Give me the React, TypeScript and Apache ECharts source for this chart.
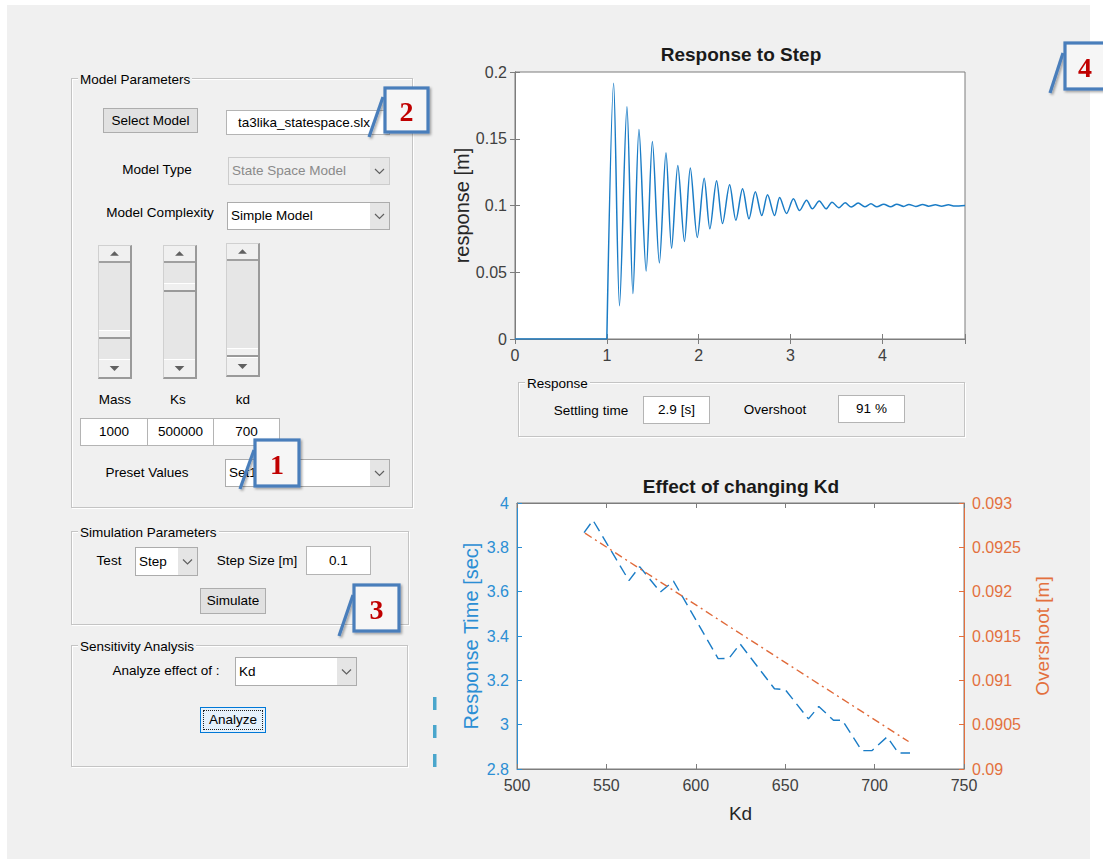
import React, { useEffect, useRef } from 'react';
import * as echarts from 'echarts';

// ---------- data ----------
const flatTime = [0, 1.0];
const flatResp = [0, 0];
const stepTime = [1.0, 1.074, 1.138, 1.219, 1.284, 1.35, 1.428, 1.496, 1.572, 1.644, 1.705, 1.773, 1.845, 1.909, 1.985, 2.06, 2.122, 2.195, 2.26, 2.337, 2.405, 2.478, 2.548, 2.617, 2.687, 2.75, 2.826, 2.882, 2.957, 3.032, 3.099, 3.175, 3.238, 3.313, 3.388, 3.452, 3.527, 3.595, 3.662, 3.737, 3.809, 3.876, 3.94, 4.015, 4.09, 4.157, 4.233, 4.289, 4.364, 4.439, 4.503, 4.578, 4.645, 4.72, 4.788, 4.9];
const stepResp = [0, 0.1915, 0.025, 0.174, 0.034, 0.157, 0.051, 0.148, 0.057, 0.1395, 0.068, 0.13, 0.073, 0.128, 0.076, 0.1205, 0.0825, 0.1185, 0.0865, 0.1155, 0.089, 0.1125, 0.09, 0.1103, 0.0925, 0.108, 0.0925, 0.106, 0.094, 0.105, 0.0962, 0.104, 0.0975, 0.1033, 0.0975, 0.1025, 0.0983, 0.102, 0.0988, 0.1018, 0.099, 0.1013, 0.099, 0.101, 0.099, 0.101, 0.0993, 0.1008, 0.0993, 0.1008, 0.0995, 0.1005, 0.0995, 0.1005, 0.0996, 0.1];

const kdValues = [537.5, 542.5, 562.6, 568.6, 580.2, 587.5, 612.5, 618.5, 624.8, 644, 650, 663, 668.8, 677, 682, 692.8, 698.6, 707, 713.3, 719.8];
const responseTime = [3.866, 3.922, 3.65, 3.713, 3.598, 3.648, 3.298, 3.299, 3.364, 3.162, 3.158, 3.026, 3.082, 3.02, 3.02, 2.883, 2.883, 2.945, 2.872, 2.872];
const overshootKd = [538, 620, 719];
const overshootValues = [0.09266, 0.09159, 0.09031];

const stepXTicks = { min: 0, max: 4.9, interval: 1 };
const stepYTicks = { min: 0, max: 0.2, interval: 0.05 };
const kdXTicks = { min: 500, max: 750, interval: 50 };
const rtYTicks = { min: 2.8, max: 4, interval: 0.2 };
const osYTicks = { min: 0.09, max: 0.093, interval: 0.0005 };

// ---------- styles ----------
const F = '"Liberation Sans", Arial, sans-serif';
const UI = '"Liberation Sans", Arial, sans-serif';
const GREY = '#7d7d7d';
const TXT = '#404040';
const BLUE = '#2b8ed4';
const BLUE_LINE = '#1a7cc6';
const ORANGE = '#e3703e';

const base: React.CSSProperties = {
  position: 'absolute',
  fontFamily: UI,
  fontSize: 13.5,
  color: '#000',
  whiteSpace: 'nowrap',
  lineHeight: '16px',
};

function Label({ x, y, text, color }: { x: number; y: number; text: string; color?: string }) {
  return (
    <div style={{ ...base, left: x, top: y, transform: 'translate(-50%,-50%)', color: color || '#000' }}>{text}</div>
  );
}

function Panel({ x, y, w, h, title }: { x: number; y: number; w: number; h: number; title: string }) {
  return (
    <div
      style={{
        position: 'absolute',
        left: x,
        top: y,
        width: w,
        height: h,
        boxSizing: 'border-box',
        border: '1px solid #c4c4c4',
        boxShadow: 'inset 1px 1px 0 #ffffff, 1px 1px 0 #ffffff',
      }}
    >
      <span style={{ ...base, left: 6, top: -7, background: '#f0f0f0', padding: '0 2px' }}>{title}</span>
    </div>
  );
}

function Chevron() {
  return (
    <svg width="19" height="100%" style={{ position: 'absolute', left: 0, top: 0 }} viewBox="0 0 19 26" preserveAspectRatio="xMidYMid meet">
      <polyline points="5,11 9.5,15.5 14,11" fill="none" stroke="#606060" strokeWidth="1.2" />
    </svg>
  );
}

function Dropdown({ x, y, w, h, text, disabled }: { x: number; y: number; w: number; h: number; text: string; disabled?: boolean }) {
  return (
    <div
      style={{
        position: 'absolute',
        left: x,
        top: y,
        width: w,
        height: h,
        boxSizing: 'border-box',
        border: `1px solid ${disabled ? '#cccccc' : '#acacac'}`,
        background: disabled ? '#f0f0f0' : '#ffffff',
        overflow: 'hidden',
      }}
    >
      <span style={{ ...base, left: 3, top: '50%', transform: 'translateY(-50%)', color: disabled ? '#8a8a8a' : '#000' }}>{text}</span>
      <div style={{ position: 'absolute', right: 0, top: 0, bottom: 0, width: 19, background: disabled ? '#e6e6e6' : '#e5e5e5' }}>
        <Chevron />
      </div>
    </div>
  );
}

function EditBox({ x, y, w, h, text, align }: { x: number; y: number; w: number; h: number; text: string; align?: string }) {
  return (
    <div
      style={{
        position: 'absolute',
        left: x,
        top: y,
        width: w,
        height: h,
        boxSizing: 'border-box',
        border: '1px solid #b4b4b4',
        background: '#ffffff',
        overflow: 'hidden',
      }}
    >
      <span
        style={{
          ...base,
          left: align === 'left' ? 11 : '50%',
          top: '50%',
          transform: align === 'left' ? 'translateY(-50%)' : 'translate(-50%,-50%)',
        }}
      >
        {text}
      </span>
    </div>
  );
}

function Button({ x, y, w, h, text, focused }: { x: number; y: number; w: number; h: number; text: string; focused?: boolean }) {
  return (
    <div
      style={{
        position: 'absolute',
        left: x,
        top: y,
        width: w,
        height: h,
        boxSizing: 'border-box',
        border: focused ? '1px solid #0078d7' : '1px solid #adadad',
        background: focused ? '#e5f1fb' : '#e1e1e1',
      }}
    >
      {focused && (
        <div style={{ position: 'absolute', left: 2, top: 2, right: 2, bottom: 2, border: '1px dotted #202020' }} />
      )}
      <span style={{ ...base, left: '50%', top: '50%', transform: 'translate(-50%,-50%)' }}>{text}</span>
    </div>
  );
}

function Tri({ up }: { up: boolean }) {
  return (
    <svg width="100%" height="100%" viewBox="0 0 32 17" style={{ position: 'absolute', left: 0, top: 0 }}>
      <polygon points={up ? '11,11 21,11 16,6' : '11,6 21,6 16,11'} fill="#606060" />
    </svg>
  );
}

function VScroll({ x, y, h, thumb }: { x: number; y: number; h: number; thumb: number }) {
  return (
    <div
      style={{
        position: 'absolute',
        left: x,
        top: y,
        width: 34,
        height: h,
        boxSizing: 'border-box',
        background: '#e6e6e6',
        borderLeft: '1px solid #d0d0d0',
        borderTop: '1px solid #d0d0d0',
        borderRight: '2px solid #9a9a9a',
        borderBottom: '2px solid #9a9a9a',
      }}
    >
      <div style={{ position: 'absolute', left: 0, right: 0, top: 0, height: 17, background: '#f0f0f0', borderBottom: '2px solid #a0a0a0', boxSizing: 'border-box' }}>
        <Tri up />
      </div>
      <div style={{ position: 'absolute', left: 0, right: 0, bottom: 0, height: 18, background: '#f0f0f0', borderTop: '1px solid #ffffff', boxSizing: 'border-box' }}>
        <Tri up={false} />
      </div>
      <div
        style={{
          position: 'absolute',
          left: 0,
          right: 0,
          top: thumb,
          height: 9,
          background: '#f0f0f0',
          borderTop: '1px solid #ffffff',
          borderBottom: '2px solid #9a9a9a',
          boxSizing: 'border-box',
        }}
      />
    </div>
  );
}

function Annotations() {
  const boxes = [
    { n: '2', x: 385, y: 88, w: 43, h: 44, s: [369, 137, 383, 97] },
    { n: '1', x: 255, y: 440, w: 44, h: 46, s: [240, 489, 254, 450] },
    { n: '3', x: 354, y: 585, w: 45, h: 46, s: [339, 636, 353, 595] },
    { n: '4', x: 1065, y: 43, w: 40, h: 46, s: [1050, 93, 1063, 53] },
  ];
  return (
    <svg width={1103} height={859} style={{ position: 'absolute', left: 0, top: 0, zIndex: 3, pointerEvents: 'none' }}>
      <defs>
        <filter id="sh" x="-30%" y="-30%" width="160%" height="160%">
          <feDropShadow dx="1.5" dy="1.5" stdDeviation="1.2" floodColor="#000" floodOpacity="0.35" />
        </filter>
      </defs>
      {[697, 725, 754].map((yy) => (
        <rect key={yy} x={433} y={yy} width={3.5} height={13} fill="#4aa6cc" />
      ))}
      {boxes.map((b) => (
        <g key={b.n} filter="url(#sh)">
          <line x1={b.s[0]} y1={b.s[1]} x2={b.s[2]} y2={b.s[3]} stroke="#4a7ebb" strokeWidth={3.2} />
          <rect x={b.x} y={b.y} width={b.w} height={b.h} fill="#f6f6f6" stroke="#4a7ebb" strokeWidth={3.2} />
          <text
            x={b.x + b.w / 2}
            y={b.y + b.h / 2 + 1}
            textAnchor="middle"
            dominantBaseline="central"
            fontFamily='"Liberation Serif", "Times New Roman", serif'
            fontWeight="bold"
            fontSize={28}
            fill="#c00000"
          >
            {b.n}
          </text>
        </g>
      ))}
    </svg>
  );
}

function axisCommon(color: string) {
  return {
    axisLine: { show: true, lineStyle: { color, width: 1 } },
    axisTick: { show: true, inside: true, length: 5, lineStyle: { color, width: 1 } },
    splitLine: { show: false },
  };
}

function labelStyle(color: string) {
  return { color, fontSize: 16, fontFamily: F, margin: 8 };
}

function Charts() {
  const ref = useRef<HTMLDivElement>(null);
  useEffect(() => {
    if (!ref.current) return;
    const chart = echarts.init(ref.current, null, { renderer: 'svg' });
    const option: any = {
      animation: false,
      backgroundColor: 'transparent',
      grid: [
        { left: 515, top: 72, width: 450, height: 267, show: true, backgroundColor: '#ffffff', borderColor: GREY, borderWidth: 1 },
        { left: 517, top: 503, width: 447, height: 266, show: true, backgroundColor: '#ffffff', borderColor: GREY, borderWidth: 1 },
      ],
      graphic: [
        {
          type: 'text',
          x: 741,
          y: 54,
          style: { text: 'Response to Step', font: `bold 19px ${F}`, fill: '#1a1a1a', textAlign: 'center', textVerticalAlign: 'middle', align: 'center', verticalAlign: 'middle' },
        },
        {
          type: 'text',
          x: 741,
          y: 486,
          style: { text: 'Effect of changing Kd', font: `bold 19px ${F}`, fill: '#1a1a1a', textAlign: 'center', textVerticalAlign: 'middle', align: 'center', verticalAlign: 'middle' },
        },
      ],
      xAxis: [
        {
          gridIndex: 0,
          type: 'value',
          ...stepXTicks,
          ...axisCommon(GREY),
          axisLabel: { ...labelStyle(TXT), formatter: (v: number) => (Number.isInteger(v) ? String(v) : '') },
        },
        {
          gridIndex: 0,
          type: 'value',
          position: 'top',
          ...stepXTicks,
          ...axisCommon(GREY),
          axisLabel: { show: false },
        },
        {
          gridIndex: 1,
          type: 'value',
          ...kdXTicks,
          ...axisCommon(GREY),
          axisLabel: labelStyle(TXT),
          name: 'Kd',
          nameLocation: 'middle',
          nameGap: 35,
          nameTextStyle: { color: '#262626', fontSize: 19, fontFamily: F },
        },
        {
          gridIndex: 1,
          type: 'value',
          position: 'top',
          ...kdXTicks,
          ...axisCommon(GREY),
          axisLabel: { show: false },
        },
      ],
      yAxis: [
        {
          gridIndex: 0,
          type: 'value',
          ...stepYTicks,
          ...axisCommon(GREY),
          axisLabel: labelStyle(TXT),
          name: 'response [m]',
          nameLocation: 'middle',
          nameGap: 43,
          nameTextStyle: { color: '#262626', fontSize: 20, fontFamily: F },
        },
        {
          gridIndex: 0,
          type: 'value',
          position: 'right',
          ...stepYTicks,
          ...axisCommon(GREY),
          axisLabel: { show: false },
        },
        {
          gridIndex: 1,
          type: 'value',
          position: 'left',
          ...rtYTicks,
          ...axisCommon(BLUE),
          axisLabel: labelStyle(BLUE),
          name: 'Response Time [sec]',
          nameLocation: 'middle',
          nameGap: 36,
          nameTextStyle: { color: BLUE, fontSize: 20, fontFamily: F },
        },
        {
          gridIndex: 1,
          type: 'value',
          position: 'right',
          ...osYTicks,
          ...axisCommon(ORANGE),
          axisLabel: labelStyle(ORANGE),
          name: 'Overshoot [m]',
          nameLocation: 'middle',
          nameGap: 69,
          nameTextStyle: { color: ORANGE, fontSize: 19, fontFamily: F },
        },
      ],
      series: [
        {
          type: 'line',
          xAxisIndex: 0,
          yAxisIndex: 0,
          data: flatTime.map((t, i) => [t, flatResp[i]]),
          showSymbol: false,
          lineStyle: { color: BLUE_LINE, width: 1.5 },
          silent: true,
        },
        {
          type: 'line',
          xAxisIndex: 0,
          yAxisIndex: 0,
          data: stepTime.map((t, i) => [t, stepResp[i]]),
          showSymbol: false,
          smooth: 0.3,
          lineStyle: { color: BLUE_LINE, width: 1.5 },
          silent: true,
        },
        {
          type: 'line',
          xAxisIndex: 2,
          yAxisIndex: 2,
          data: kdValues.map((k, i) => [k, responseTime[i]]),
          showSymbol: false,
          lineStyle: { color: BLUE_LINE, width: 1.4, type: [11, 6] },
          silent: true,
        },
        {
          type: 'line',
          xAxisIndex: 2,
          yAxisIndex: 3,
          data: overshootKd.map((k, i) => [k, overshootValues[i]]),
          showSymbol: false,
          lineStyle: { color: '#e06a3a', width: 1.4, type: [8, 4, 2, 4] },
          silent: true,
        },
      ],
    };
    chart.setOption(option);
    return () => chart.dispose();
  }, []);
  return <div ref={ref} style={{ position: 'absolute', left: 0, top: 0, width: 1103, height: 859, zIndex: 2 }} />;
}

export default function App() {
  return (
    <div style={{ position: 'absolute', left: 0, top: 0, width: 1103, height: 859, overflow: 'hidden', background: '#ffffff' }}>
      <div style={{ position: 'absolute', left: 7, top: 5, width: 1083, height: 854, background: '#f0f0f0' }} />

      {/* Model Parameters */}
      <Panel x={71} y={78} w={342} h={430} title="Model Parameters" />
      <Button x={103} y={108} w={95} h={25} text="Select Model" />
      <EditBox x={226} y={110} w={164} h={25} text="ta3lika_statespace.slx" align="left" />
      <Label x={157} y={170} text="Model Type" />
      <Dropdown x={228} y={157} w={162} h={28} text="State Space Model" disabled />
      <Label x={160} y={213} text="Model Complexity" />
      <Dropdown x={227} y={202} w={163} h={28} text="Simple Model" />
      <VScroll x={98} y={245} h={134} thumb={84} />
      <VScroll x={163} y={245} h={134} thumb={37} />
      <VScroll x={226} y={243} h={134} thumb={104} />
      <Label x={115} y={400} text="Mass" />
      <Label x={178} y={400} text="Ks" />
      <Label x={243} y={400} text="kd" />
      <EditBox x={80} y={418} w={68} h={28} text="1000" />
      <EditBox x={147} y={418} w={67} h={28} text="500000" />
      <EditBox x={213} y={418} w={67} h={28} text="700" />
      <Label x={147} y={473} text="Preset Values" />
      <Dropdown x={225} y={459} w={165} h={28} text="Set1" />

      {/* Simulation Parameters */}
      <Panel x={71} y={531} w={338} h={94} title="Simulation Parameters" />
      <Label x={109} y={561} text="Test" />
      <Dropdown x={135} y={547} w={63} h={29} text="Step" />
      <Label x={257} y={561} text="Step Size [m]" />
      <EditBox x={306} y={546} w={65} h={29} text="0.1" />
      <Button x={200} y={588} w={66} h={26} text="Simulate" />

      {/* Sensitivity Analysis */}
      <Panel x={71} y={645} w={337} h={122} title="Sensitivity Analysis" />
      <Label x={166} y={671} text="Analyze effect of :" />
      <Dropdown x={235} y={657} w={122} h={29} text="Kd" />
      <Button x={200} y={707} w={66} h={26} text="Analyze" focused />

      {/* Response panel */}
      <Panel x={518} y={382} w={447} h={55} title="Response" />
      <Label x={591} y={411} text="Settling time" />
      <EditBox x={643} y={396} w={67} h={28} text="2.9 [s]" />
      <Label x={775} y={410} text="Overshoot" />
      <EditBox x={838} y={395} w={67} h={28} text="91 %" />

      <Charts />
      <Annotations />
    </div>
  );
}
